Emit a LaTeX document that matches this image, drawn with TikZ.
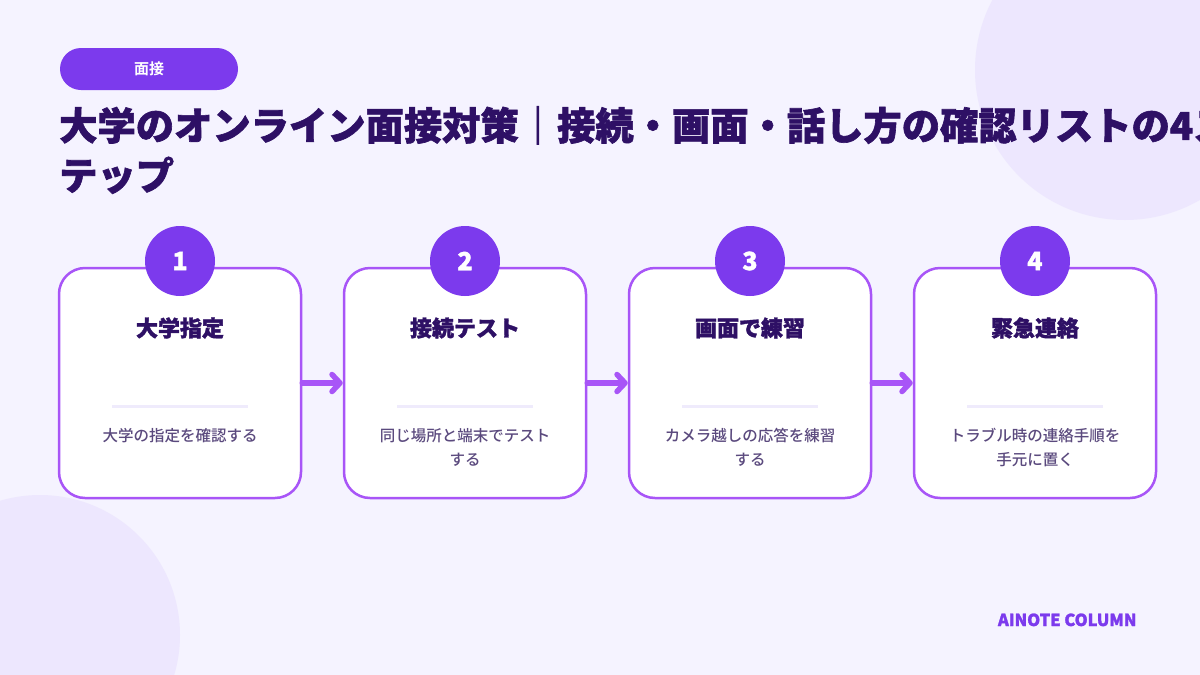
\documentclass[tikz,border=0pt]{standalone}
\usepackage{fontspec}
\setmainfont{Noto Sans CJK JP}
\newfontfamily\jpheavy{Noto Sans CJK JP Black}[FakeBold=1.6]
\newfontfamily\jpbold{Noto Sans CJK JP Bold}
\newfontfamily\jpmed{Noto Sans CJK JP Medium}
\usepackage{xcolor}
\usetikzlibrary{positioning}
\usetikzlibrary{arrows.meta}

\definecolor{bgpale}{HTML}{F5F3FF}
\definecolor{blob}{HTML}{EDE7FE}
\definecolor{violetmain}{HTML}{7C3AED}
\definecolor{cardline}{HTML}{A855F7}
\definecolor{inkdark}{HTML}{2E1065}
\definecolor{inksoft}{HTML}{5B4A7E}
\definecolor{rule}{HTML}{EFEBFC}

\begin{document}
\begin{tikzpicture}[x=1pt,y=-1pt,>={Straight Barb[length=8pt,width=17pt,line cap=round,line join=round]},
                    card/.style={draw=cardline,line width=2.5pt,fill=white,rounded corners=26pt,
                                 minimum width=242pt,minimum height=230pt},
                    num node/.style={circle,fill=violetmain,text=white,minimum size=70pt,inner sep=0pt,
                                     font=\jpheavy\fontsize{25}{25}\selectfont},
                    step title/.style={text=inkdark,font=\jpheavy\fontsize{22}{22}\selectfont},
                    step text/.style={anchor=north,text=inksoft,align=center,
                                      font=\jpmed\fontsize{15.5}{24}\selectfont},
                    step arrow/.style={->,draw=cardline,line width=5.5pt,line cap=round},
                    divider/.style={draw=rule,line width=3pt}]
      \useasboundingbox (0,0) rectangle (1200,675);
      \clip (0,0) rectangle (1200,675);
      \fill[bgpale] (0,0) rectangle (1200,675);
      \fill[blob] (1125,70) circle (150);
      \fill[blob] (40,635) circle (140);

      % tag and heading
      \node[fill=violetmain,text=white,rounded corners=21pt,minimum width=178pt,minimum height=42pt,
            font=\jpbold\fontsize{15}{15}\selectfont] (tag) at (149,69) {面接};
      \node[anchor=north west,align=left,inner sep=0pt,text=inkdark,
            font=\jpheavy\fontsize{38.3}{50}\selectfont] (heading) at (59,106)
            {大学のオンライン面接対策｜接続・画面・話し方の確認リストの4ス\\テップ};

      % cards
      \node[card] (c1) at (180,383) {};
      \node[card] (c2) at (465,383) {};
      \node[card] (c3) at (750,383) {};
      \node[card] (c4) at (1035,383) {};

      \node[num node] (n1) at (180,261) {1};
      \node[num node] (n2) at (465,261) {2};
      \node[num node] (n3) at (750,261) {3};
      \node[num node] (n4) at (1035,261) {4};

      \node[step title] (t1) at (180,328) {大学指定};
      \node[step title] (t2) at (465,328) {接続テスト};
      \node[step title] (t3) at (750,328) {画面で練習};
      \node[step title] (t4) at (1035,328) {緊急連絡};

      \draw[divider] (112,406) -- (248,406);
      \draw[divider] (397,406) -- (533,406);
      \draw[divider] (682,406) -- (818,406);
      \draw[divider] (967,406) -- (1103,406);

      \node[step text] (d1) at (180,425) {大学の指定を確認する};
      \node[step text] (d2) at (465,425) {同じ場所と端末でテスト\\する};
      \node[step text] (d3) at (750,425) {カメラ越しの応答を練習\\する};
      \node[step text] (d4) at (1035,425) {トラブル時の連絡手順を\\手元に置く};

      \path[step arrow]
	(c1) edge (c2)
	(c2) edge (c3)
	(c3) edge (c4);

      \node[anchor=base east,text=violetmain,font=\jpheavy\fontsize{16.5}{16.5}\selectfont] (brand) at (1140,626) {AINOTE COLUMN};
    \end{tikzpicture}
\end{document}
